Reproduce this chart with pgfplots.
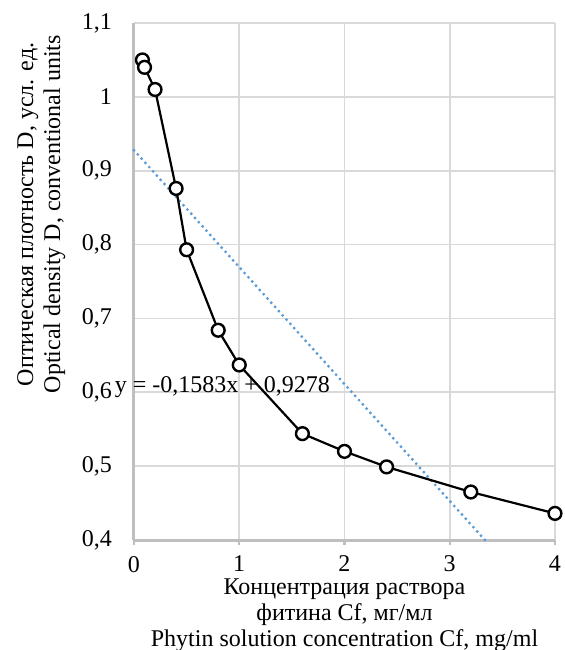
\documentclass[border=0pt]{standalone}
\usepackage{fontspec}
\setmainfont{Liberation Serif}
\usepackage{pgfplots}
\pgfplotsset{compat=1.18}
\definecolor{trend}{RGB}{91,155,213}
\definecolor{gridc}{RGB}{217,217,217}
\definecolor{axc}{RGB}{191,191,191}

\begin{document}
\begin{tikzpicture}
\useasboundingbox (-67pt,-55pt) rectangle (215.5pt,270pt);
\begin{axis}[
    at={(0,0)}, anchor=south west,
    scale only axis,
    width=210.5pt, height=258.5pt,
    xmin=0, xmax=4, ymin=0.4, ymax=1.1,
    xtick={0,1,2,3,4},
    ytick={0.4,0.5,0.6,0.7,0.8,0.9,1.0,1.1},
    /pgf/number format/assume math mode=true,
    /pgf/number format/use comma,
    axis lines=left,
    axis line style={-, axc, line width=1.5pt},
    tick align=outside,
    major tick length=2.5pt,
    xtick style={axc, line width=1.2pt},
    ytick style={draw=none},
    grid=major,
    major grid style={gridc, line width=0.8pt},
    tick label style={font=\fontsize{12}{13.5}\selectfont},
    x tick label style={yshift=-2pt},
    y tick label style={xshift=-5pt},
    label style={font=\fontsize{12}{13.5}\selectfont, align=center},
    xlabel={Концентрация раствора\\фитина Cf, мг/мл\\Phytin solution concentration Cf, mg/ml},
    xlabel style={at={(axis description cs:0.5,-0.145)}, anchor=center,
        font=\fontsize{12}{13}\selectfont},
    ylabel={Оптическая плотность D, усл. ед.\\Optical density D, conventional units},
    ylabel style={at={(axis description cs:-0.22,0.63)}, anchor=center},
    clip=false,
]
% linear trend y = -0.1583x + 0.9278
\addplot[trend, line width=1.6pt, line cap=round, dash pattern=on 0pt off 2.85pt]
    coordinates {(0,0.9278) (3.334,0.4)};
\addplot[black, line width=1.1pt, mark=*, mark size=3.2pt,
    mark options={fill=white, draw=black, line width=1.2pt}]
    coordinates {
    (0.08,1.05) (0.1,1.04) (0.2,1.01) (0.4,0.876) (0.5,0.793)
    (0.8,0.684) (1.0,0.637) (1.6,0.544) (2.0,0.52) (2.4,0.499)
    (3.2,0.465) (4.0,0.436)
    };
\node[font=\fontsize{12}{13.5}\selectfont] at (axis cs:0.84,0.607) {y = -0,1583x + 0,9278};
\end{axis}
\end{tikzpicture}
\end{document}
